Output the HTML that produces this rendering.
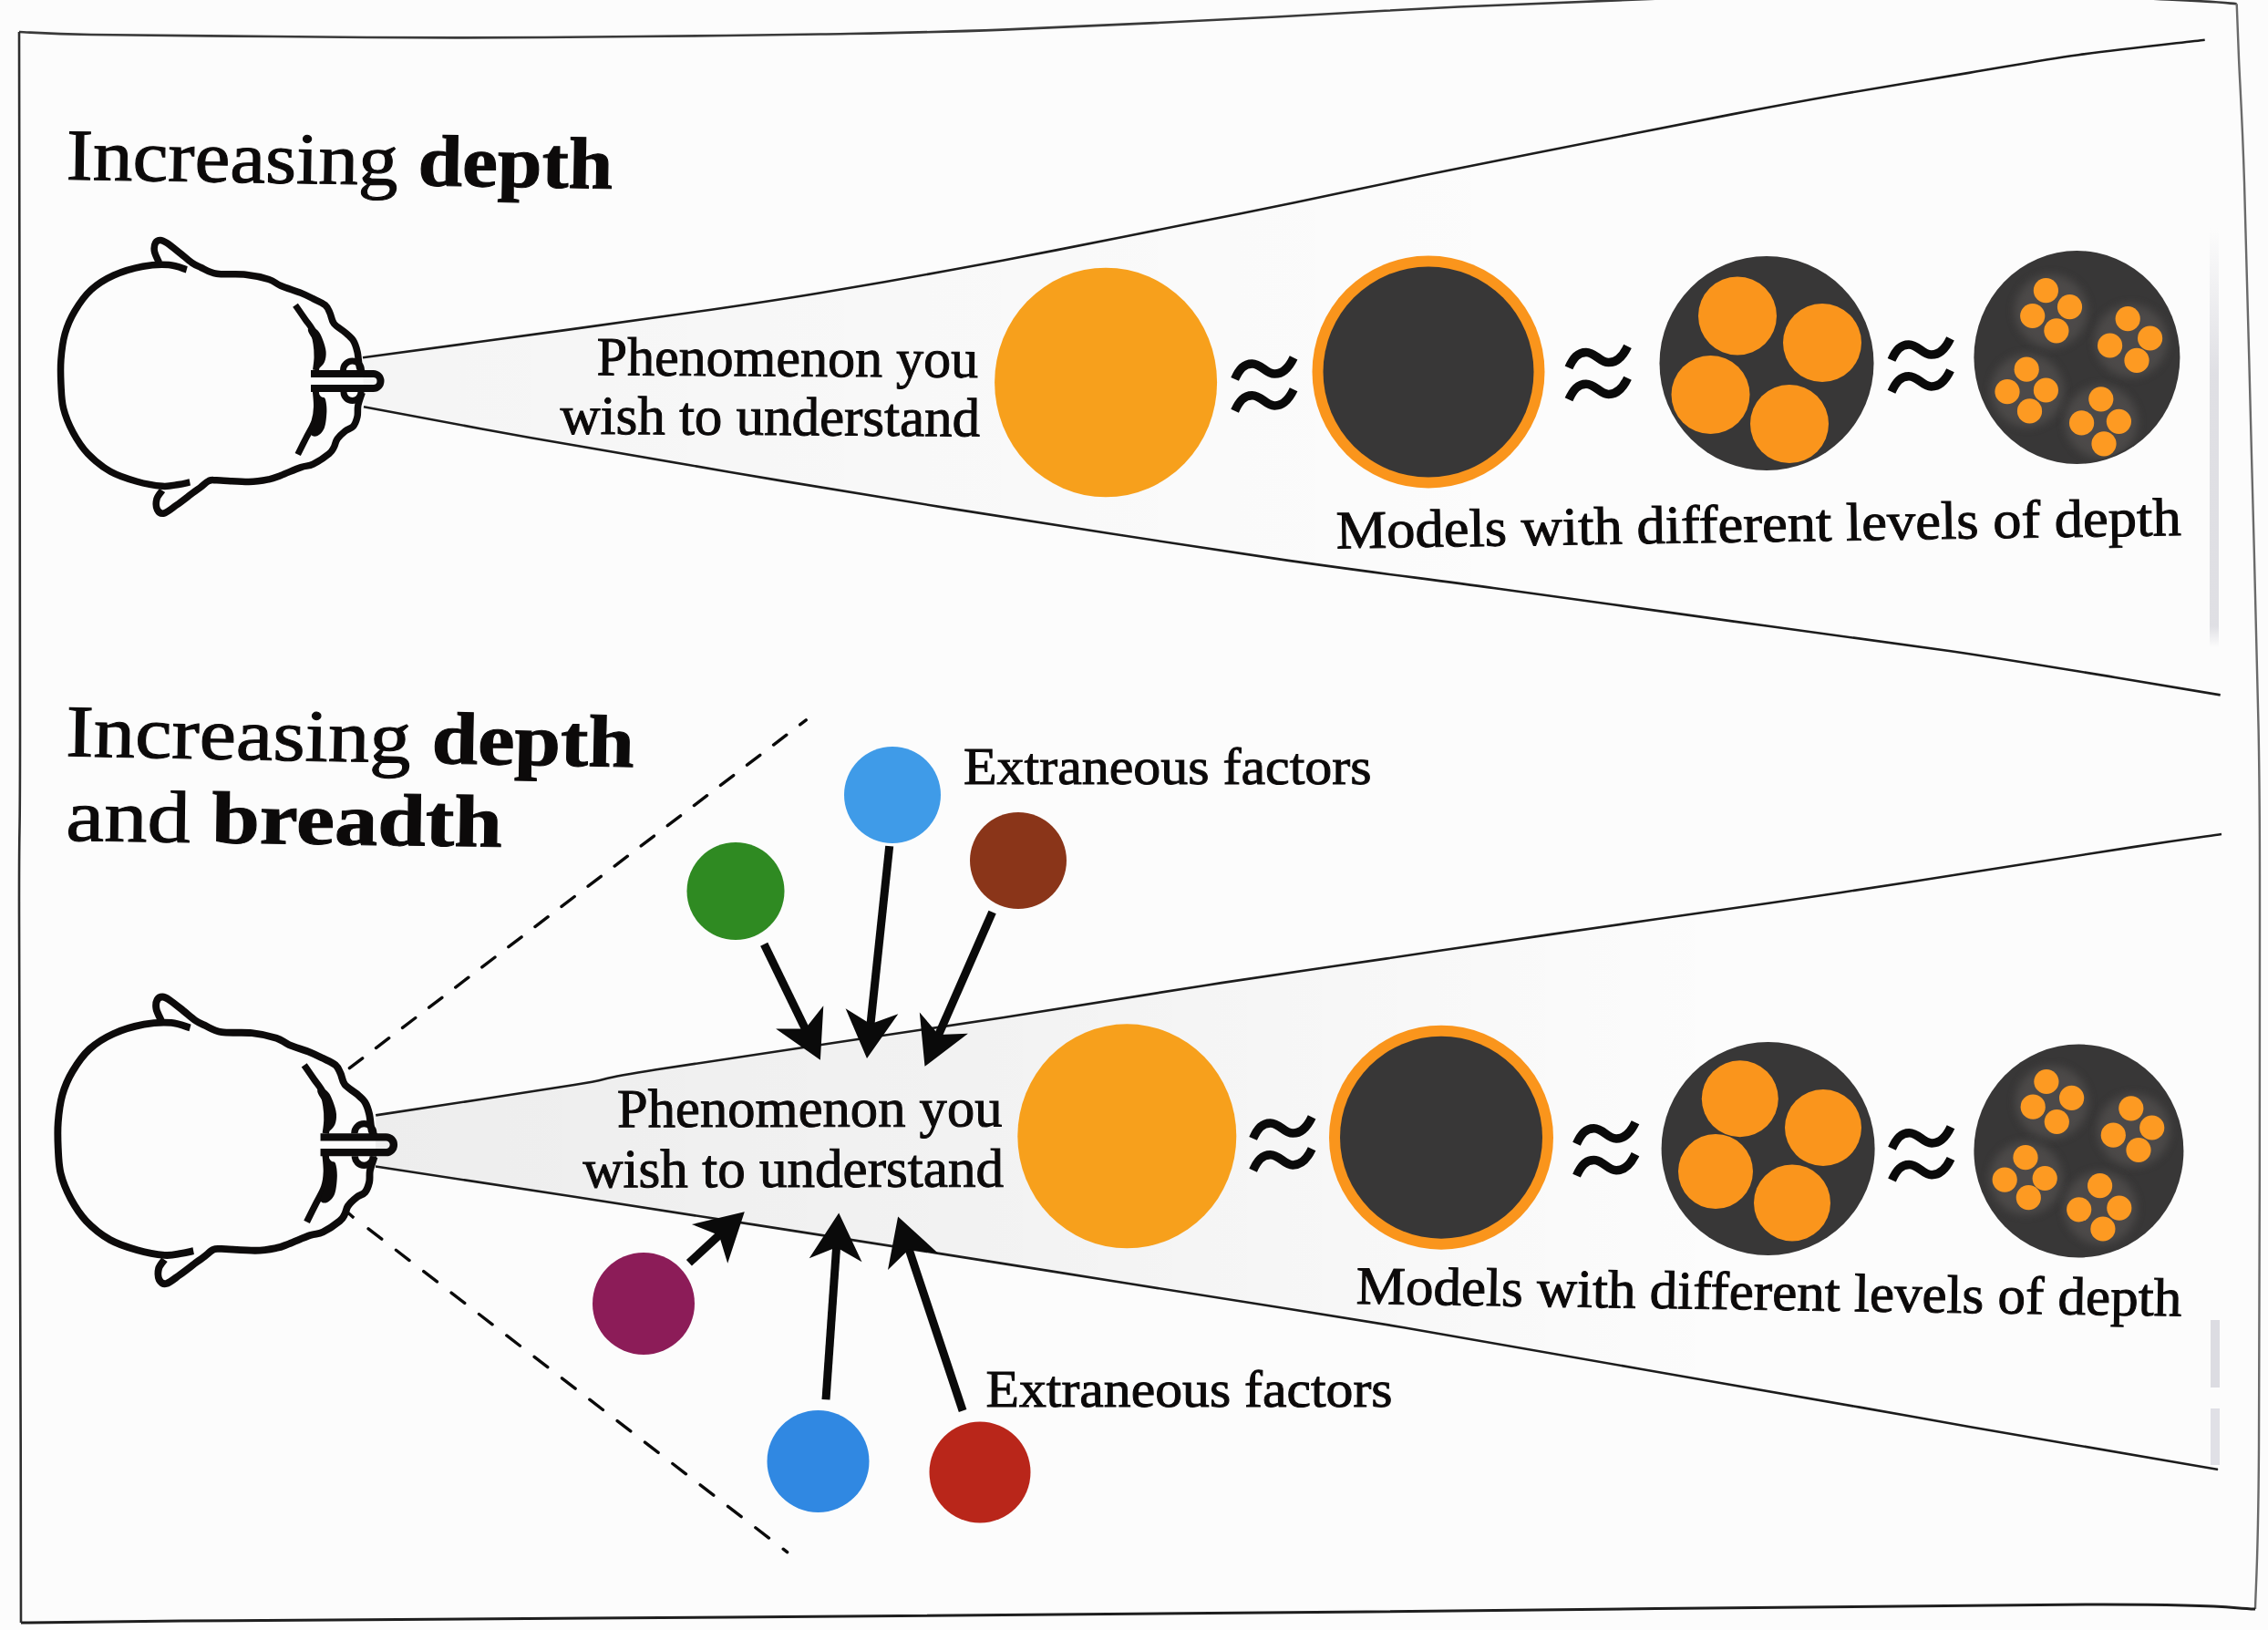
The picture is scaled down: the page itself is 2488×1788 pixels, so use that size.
<!DOCTYPE html>
<html><head><meta charset="utf-8"><style>
html,body{margin:0;padding:0;background:#fcfcfc;overflow:hidden}
svg{display:block}
text{font-family:"Liberation Serif",serif}
</style></head><body>
<svg width="2488" height="1788" viewBox="0 0 2488 1788"><rect width="2488" height="1788" fill="#fcfcfc"/><defs><filter id="hb" x="-30%" y="-30%" width="160%" height="160%"><feGaussianBlur stdDeviation="5"/></filter></defs><defs><linearGradient id="g1" gradientUnits="userSpaceOnUse" x1="400" y1="0" x2="1700" y2="0"><stop offset="0" stop-color="#000" stop-opacity="0.03"/><stop offset="0.5" stop-color="#000" stop-opacity="0.015"/><stop offset="1" stop-color="#000" stop-opacity="0"/></linearGradient><linearGradient id="g2" gradientUnits="userSpaceOnUse" x1="400" y1="0" x2="1900" y2="0"><stop offset="0" stop-color="#000" stop-opacity="0.06"/><stop offset="0.45" stop-color="#000" stop-opacity="0.04"/><stop offset="1" stop-color="#000" stop-opacity="0"/></linearGradient></defs><path d="M 398.0 392.3 C 435.0 387.3 556.3 370.9 620.0 362.1 C 683.7 353.4 733.3 346.6 780.0 339.8 C 826.7 333.0 856.7 328.5 900.0 321.3 C 943.3 314.1 996.7 304.7 1040.0 296.8 C 1083.3 288.9 1116.7 282.5 1160.0 274.1 C 1203.3 265.7 1256.7 254.9 1300.0 246.3 C 1343.3 237.7 1376.7 231.2 1420.0 222.3 C 1463.3 213.4 1516.7 201.7 1560.0 192.8 C 1603.3 183.9 1623.3 180.0 1680.0 168.8 C 1736.7 157.6 1843.3 136.3 1900.0 125.4 C 1956.7 114.5 1976.7 110.9 2020.0 103.3 C 2063.3 95.7 2116.7 87.1 2160.0 79.9 C 2203.3 72.7 2236.9 66.2 2280.0 60.2 C 2323.1 54.2 2395.6 46.5 2418.7 43.7 L 2435.7 762.4  2435.7 762.4 C 2416.4 759.2 2369.3 751.0 2320.0 743.0 C 2270.7 735.0 2210.0 724.5 2140.0 714.2 C 2070.0 703.9 1983.3 692.9 1900.0 681.4 C 1816.7 669.9 1723.3 656.6 1640.0 645.2 C 1556.7 633.8 1500.0 627.5 1400.0 612.9 C 1300.0 598.3 1140.0 573.3 1040.0 557.4 C 940.0 541.5 876.5 530.6 800.0 517.7 C 723.5 504.8 647.8 491.9 581.0 480.0 C 514.2 468.1 429.3 451.8 399.0 446.2 Z" fill="url(#g1)"/><path d="M 412.2 1223.4 C 448.5 1217.8 578.7 1198.3 630.0 1190.0 C 681.3 1181.7 641.7 1185.6 720.0 1173.3 C 798.3 1161.0 996.7 1132.1 1100.0 1116.2 C 1203.3 1100.3 1270.0 1088.9 1340.0 1078.1 C 1410.0 1067.3 1460.0 1060.4 1520.0 1051.6 C 1580.0 1042.8 1630.0 1035.2 1700.0 1025.1 C 1770.0 1014.9 1873.3 1000.4 1940.0 990.7 C 2006.7 981.0 2033.3 977.0 2100.0 966.7 C 2166.7 956.4 2283.8 937.7 2340.0 929.1 C 2396.2 920.5 2420.8 917.4 2437.0 915.0 L 2432.8 1611.9  2432.8 1611.9 C 2427.3 1611.0 2445.5 1614.0 2400.0 1606.2 C 2354.5 1598.4 2220.0 1575.4 2160.0 1565.0 C 2100.0 1554.6 2100.0 1554.1 2040.0 1543.6 C 1980.0 1533.1 1883.3 1516.4 1800.0 1501.8 C 1716.7 1487.2 1633.3 1471.8 1540.0 1456.2 C 1446.7 1440.6 1325.1 1421.8 1240.0 1408.3 C 1154.9 1394.8 1131.3 1390.8 1029.6 1374.9 C 927.9 1359.0 732.9 1328.7 630.0 1312.8 C 527.1 1296.9 448.3 1285.0 412.0 1279.5 Z" fill="url(#g2)"/><path d="M 21.0 35.0 C 34.2 35.5 53.5 37.2 100.0 38.0 C 146.5 38.8 233.3 39.4 300.0 40.0 C 366.7 40.6 433.3 41.4 500.0 41.4 C 566.7 41.4 633.3 40.6 700.0 40.0 C 766.7 39.4 833.3 38.7 900.0 37.5 C 966.7 36.3 1016.7 35.8 1100.0 32.6 C 1183.3 29.4 1316.7 22.7 1400.0 18.5 C 1483.3 14.3 1527.8 10.9 1600.0 7.5 C 1672.2 4.1 1749.7 1.2 1833.0 -2.0 C 1916.3 -5.2 2007.5 -12.3 2100.0 -12.0 C 2192.5 -11.7 2329.1 -2.7 2388.0 0.0 C 2446.9 2.7 2442.8 3.5 2453.7 4.2" fill="none" stroke="#3a3a3a" stroke-width="2.6"/><path d="M 2453.7 4.2 C 2454.1 14.2 2454.6 31.4 2456.0 64.0 C 2457.4 96.6 2459.7 127.3 2462.0 200.0 C 2464.3 272.7 2467.4 400.0 2470.0 500.0 C 2472.6 600.0 2476.1 716.7 2477.6 800.0 C 2479.1 883.3 2478.9 868.7 2479.0 1000.0 C 2479.1 1131.3 2478.8 1460.5 2478.0 1588.0 C 2477.2 1715.5 2474.7 1735.5 2474.0 1765.0" fill="none" stroke="#6a6a6a" stroke-width="2.4"/><path d="M 2474.0 1765.0 C 2443.0 1764.2 2450.3 1759.5 2288.0 1760.0 C 2125.7 1760.5 1748.0 1765.7 1500.0 1768.0 C 1252.0 1770.3 1016.7 1772.3 800.0 1774.0 C 583.3 1775.7 329.5 1777.0 200.0 1778.0 C 70.5 1779.0 52.5 1779.7 23.0 1780.0" fill="none" stroke="#1e1e1e" stroke-width="3"/><path d="M 23.0 1780.0 C 22.9 1748.0 23.0 1718.0 22.7 1588.0 C 22.4 1458.0 21.1 1131.3 21.0 1000.0 C 20.9 868.7 22.0 960.8 22.0 800.0 C 22.0 639.2 21.2 162.5 21.0 35.0" fill="none" stroke="#2e2e2e" stroke-width="2.6"/><path d="M 398.0 392.3 C 435.0 387.3 556.3 370.9 620.0 362.1 C 683.7 353.4 733.3 346.6 780.0 339.8 C 826.7 333.0 856.7 328.5 900.0 321.3 C 943.3 314.1 996.7 304.7 1040.0 296.8 C 1083.3 288.9 1116.7 282.5 1160.0 274.1 C 1203.3 265.7 1256.7 254.9 1300.0 246.3 C 1343.3 237.7 1376.7 231.2 1420.0 222.3 C 1463.3 213.4 1516.7 201.7 1560.0 192.8 C 1603.3 183.9 1623.3 180.0 1680.0 168.8 C 1736.7 157.6 1843.3 136.3 1900.0 125.4 C 1956.7 114.5 1976.7 110.9 2020.0 103.3 C 2063.3 95.7 2116.7 87.1 2160.0 79.9 C 2203.3 72.7 2236.9 66.2 2280.0 60.2 C 2323.1 54.2 2395.6 46.5 2418.7 43.7" fill="none" stroke="#1c1c1c" stroke-width="2.6"/><path d="M 399.0 446.2 C 429.3 451.8 514.2 468.1 581.0 480.0 C 647.8 491.9 723.5 504.8 800.0 517.7 C 876.5 530.6 940.0 541.5 1040.0 557.4 C 1140.0 573.3 1300.0 598.3 1400.0 612.9 C 1500.0 627.5 1556.7 633.8 1640.0 645.2 C 1723.3 656.6 1816.7 669.9 1900.0 681.4 C 1983.3 692.9 2070.0 703.9 2140.0 714.2 C 2210.0 724.5 2270.7 735.0 2320.0 743.0 C 2369.3 751.0 2416.4 759.2 2435.7 762.4" fill="none" stroke="#1c1c1c" stroke-width="2.6"/><path d="M 412.2 1223.4 C 448.5 1217.8 578.7 1198.3 630.0 1190.0 C 681.3 1181.7 641.7 1185.6 720.0 1173.3 C 798.3 1161.0 996.7 1132.1 1100.0 1116.2 C 1203.3 1100.3 1270.0 1088.9 1340.0 1078.1 C 1410.0 1067.3 1460.0 1060.4 1520.0 1051.6 C 1580.0 1042.8 1630.0 1035.2 1700.0 1025.1 C 1770.0 1014.9 1873.3 1000.4 1940.0 990.7 C 2006.7 981.0 2033.3 977.0 2100.0 966.7 C 2166.7 956.4 2283.8 937.7 2340.0 929.1 C 2396.2 920.5 2420.8 917.4 2437.0 915.0" fill="none" stroke="#1c1c1c" stroke-width="2.6"/><path d="M 412.0 1279.5 C 448.3 1285.0 527.1 1296.9 630.0 1312.8 C 732.9 1328.7 927.9 1359.0 1029.6 1374.9 C 1131.3 1390.8 1154.9 1394.8 1240.0 1408.3 C 1325.1 1421.8 1446.7 1440.6 1540.0 1456.2 C 1633.3 1471.8 1716.7 1487.2 1800.0 1501.8 C 1883.3 1516.4 1980.0 1533.1 2040.0 1543.6 C 2100.0 1554.1 2100.0 1554.6 2160.0 1565.0 C 2220.0 1575.4 2354.5 1598.4 2400.0 1606.2 C 2445.5 1614.0 2427.3 1611.0 2432.8 1611.9" fill="none" stroke="#1c1c1c" stroke-width="2.6"/><line x1="383.4" y1="1171.7" x2="884.2" y2="789.9" stroke="#0a0a0a" stroke-width="3.4" stroke-dasharray="17.9 18.66" stroke-linecap="round"/><line x1="404.1" y1="1347.8" x2="863.6" y2="1702.6" stroke="#0a0a0a" stroke-width="3.4" stroke-dasharray="18.5 19.83" stroke-linecap="round"/><line x1="381.2" y1="1329.7" x2="388.2" y2="1335.9" stroke="#0a0a0a" stroke-width="3.4"/><defs><linearGradient id="vb" x1="0" y1="0" x2="0" y2="1"><stop offset="0" stop-color="#d8d8de" stop-opacity="0"/><stop offset="0.35" stop-color="#d8d8de" stop-opacity="0.8"/><stop offset="0.95" stop-color="#d8d8de" stop-opacity="0.8"/><stop offset="1" stop-color="#d8d8de" stop-opacity="0"/></linearGradient></defs><rect x="2424" y="250" width="10" height="460" fill="url(#vb)"/><rect x="2425" y="1448" width="10" height="74" fill="#dcdce2"/><rect x="2425" y="1545" width="10" height="62" fill="#e0e0e6"/><g><path d="M 204.8 295.8 C 201.5 294.9 193.2 291.1 185.2 290.5 C 177.2 289.9 166.8 290.3 156.7 292.2 C 146.6 294.1 134.2 297.7 124.7 302.0 C 115.2 306.3 106.9 311.5 99.8 318.0 C 92.7 324.5 86.8 333.2 82.0 341.2 C 77.2 349.2 73.8 357.1 71.3 366.0 C 68.8 374.9 67.6 385.3 66.9 394.5 C 66.2 403.7 66.5 412.3 66.9 421.2 C 67.4 430.1 67.4 439.0 69.6 447.9 C 71.8 456.8 75.8 466.3 80.2 474.6 C 84.7 482.9 89.5 490.6 96.3 497.7 C 103.1 504.8 112.3 512.2 121.2 517.3 C 130.1 522.3 140.1 525.3 149.6 528.0 C 159.1 530.7 170.4 532.7 178.1 533.3 C 185.8 533.9 190.9 532.2 195.9 531.5 C 200.9 530.8 206.2 529.3 208.3 528.9" fill="none" stroke="#0d0b0b" stroke-width="7.5" stroke-linecap="butt" stroke-linejoin="round"/>
<path d="M 174.5 288.0 C 173.7 286.0 170.2 279.6 169.5 276.0 C 168.8 272.4 169.4 268.6 170.5 266.5 C 171.6 264.4 173.9 263.5 176.0 263.5 C 178.1 263.5 179.7 264.3 183.3 266.7 C 186.9 269.1 193.1 274.2 197.6 277.8 C 202.1 281.4 206.6 285.5 210.3 288.1 C 214.0 290.7 215.4 291.2 220.0 293.2 C 224.6 295.2 229.4 299.0 237.6 300.3 C 245.8 301.6 259.8 300.2 269.4 301.2 C 279.0 302.2 288.5 304.4 295.0 306.5 C 301.5 308.6 302.3 311.0 308.2 313.5 C 314.1 316.0 324.3 319.0 330.2 321.4 C 336.1 323.8 339.1 325.4 343.5 327.6 C 347.9 329.8 353.6 332.1 356.7 334.7 C 359.8 337.3 360.4 340.1 362.0 343.5 C 363.6 346.9 363.6 351.5 366.4 355.0 C 369.2 358.5 375.2 361.6 378.7 364.7 C 382.2 367.8 385.3 370.0 387.5 373.5 C 389.7 377.0 390.8 380.8 392.0 385.8 C 393.2 390.8 393.4 399.4 394.6 403.5 C 395.8 407.6 398.3 409.3 399.0 410.5" fill="none" stroke="#0d0b0b" stroke-width="7.5" stroke-linejoin="round"/>
<path d="M 397.2 430.6 C 396.5 433.0 393.7 440.3 392.8 444.7 C 391.9 449.1 392.9 453.2 392.0 457.0 C 391.1 460.8 389.7 465.0 387.5 467.6 C 385.3 470.2 381.6 470.5 378.7 472.9 C 375.8 475.2 371.9 478.8 369.9 481.7 C 367.8 484.6 367.9 487.9 366.4 490.5 C 364.9 493.1 364.9 494.5 361.1 497.6 C 357.3 500.7 348.6 506.6 343.5 509.1 C 338.4 511.6 336.1 510.6 330.2 512.6 C 324.3 514.6 314.1 519.2 308.2 521.4 C 302.3 523.6 300.9 524.6 295.0 525.8 C 289.1 527.0 282.5 528.4 272.9 528.5 C 263.3 528.6 244.9 526.9 237.6 526.7 C 230.2 526.6 231.7 526.3 228.8 527.6 C 225.9 528.9 222.8 532.5 220.0 534.6 C 217.2 536.8 216.0 537.3 211.7 540.5 C 207.4 543.7 199.4 550.0 194.1 553.8 C 188.8 557.5 183.6 562.1 180.0 563.0 C 176.4 563.9 173.8 561.6 172.5 559.0 C 171.2 556.4 171.1 550.7 172.0 547.2 C 172.9 543.7 177.0 539.5 178.0 538.0" fill="none" stroke="#0d0b0b" stroke-width="7.5" stroke-linejoin="round"/>
<path d="M 324.0 334.7 C 325.8 337.2 331.4 345.3 334.6 350.0 C 337.9 354.7 341.4 358.5 343.5 363.0 C 345.6 367.5 346.2 372.2 347.0 377.0 C 347.8 381.8 348.1 387.2 348.0 392.0 C 347.9 396.8 346.8 403.7 346.5 406.0" fill="none" stroke="#0d0b0b" stroke-width="7"/>
<path d="M 341.0 358.0 C 342.8 358.0 346.8 360.6 349.0 363.0 C 351.2 365.4 352.6 368.8 354.0 372.6 C 355.4 376.4 357.3 381.7 357.6 385.8 C 357.9 389.9 357.3 394.0 356.0 397.0 C 354.7 400.0 351.8 402.6 350.0 404.0 C 348.2 405.4 345.7 406.8 345.2 405.2 C 344.7 403.6 347.0 399.3 347.0 394.6 C 347.0 389.9 346.7 382.3 345.2 377.0 C 343.7 371.7 338.7 366.2 338.0 363.0 C 337.3 359.8 339.2 358.0 341.0 358.0 Z" fill="#0d0b0b"/>
<path d="M 346.1 426.0 C 346.3 429.3 347.7 440.0 347.5 446.0 C 347.3 452.0 346.9 456.3 345.0 462.0 C 343.1 467.7 339.1 473.9 336.0 480.0 C 332.9 486.1 328.2 495.4 326.7 498.5" fill="none" stroke="#0d0b0b" stroke-width="7"/>
<path d="M 346.1 428.8 C 346.8 426.9 350.5 433.5 352.3 435.0 C 354.1 436.5 355.7 435.0 356.7 437.6 C 357.7 440.2 358.5 445.6 358.4 450.9 C 358.2 456.2 357.6 464.8 355.8 469.4 C 354.1 473.9 350.4 477.1 347.9 478.2 C 345.4 479.3 341.4 478.6 341.0 476.0 C 340.6 473.4 344.1 467.2 345.2 462.3 C 346.3 457.4 347.8 452.1 347.9 446.5 C 348.0 440.9 345.4 430.7 346.1 428.8 Z" fill="#0d0b0b"/>
<path d="M 376.5 406 A 10 10 0 0 1 396.5 406" fill="none" stroke="#0d0b0b" stroke-width="7"/>
<path d="M 377 430 A 9.5 9.5 0 0 0 396 430" fill="none" stroke="#0d0b0b" stroke-width="7"/>
<path d="M 341 410 L 409.5 410 A 8 8 0 0 1 409.5 426 L 341 426" fill="none" stroke="#0d0b0b" stroke-width="8"/></g><g transform="matrix(1.05 0 0 1.05 -6.5 816.87)"><path d="M 204.8 295.8 C 201.5 294.9 193.2 291.1 185.2 290.5 C 177.2 289.9 166.8 290.3 156.7 292.2 C 146.6 294.1 134.2 297.7 124.7 302.0 C 115.2 306.3 106.9 311.5 99.8 318.0 C 92.7 324.5 86.8 333.2 82.0 341.2 C 77.2 349.2 73.8 357.1 71.3 366.0 C 68.8 374.9 67.6 385.3 66.9 394.5 C 66.2 403.7 66.5 412.3 66.9 421.2 C 67.4 430.1 67.4 439.0 69.6 447.9 C 71.8 456.8 75.8 466.3 80.2 474.6 C 84.7 482.9 89.5 490.6 96.3 497.7 C 103.1 504.8 112.3 512.2 121.2 517.3 C 130.1 522.3 140.1 525.3 149.6 528.0 C 159.1 530.7 170.4 532.7 178.1 533.3 C 185.8 533.9 190.9 532.2 195.9 531.5 C 200.9 530.8 206.2 529.3 208.3 528.9" fill="none" stroke="#0d0b0b" stroke-width="7.5" stroke-linecap="butt" stroke-linejoin="round"/>
<path d="M 174.5 288.0 C 173.7 286.0 170.2 279.6 169.5 276.0 C 168.8 272.4 169.4 268.6 170.5 266.5 C 171.6 264.4 173.9 263.5 176.0 263.5 C 178.1 263.5 179.7 264.3 183.3 266.7 C 186.9 269.1 193.1 274.2 197.6 277.8 C 202.1 281.4 206.6 285.5 210.3 288.1 C 214.0 290.7 215.4 291.2 220.0 293.2 C 224.6 295.2 229.4 299.0 237.6 300.3 C 245.8 301.6 259.8 300.2 269.4 301.2 C 279.0 302.2 288.5 304.4 295.0 306.5 C 301.5 308.6 302.3 311.0 308.2 313.5 C 314.1 316.0 324.3 319.0 330.2 321.4 C 336.1 323.8 339.1 325.4 343.5 327.6 C 347.9 329.8 353.6 332.1 356.7 334.7 C 359.8 337.3 360.4 340.1 362.0 343.5 C 363.6 346.9 363.6 351.5 366.4 355.0 C 369.2 358.5 375.2 361.6 378.7 364.7 C 382.2 367.8 385.3 370.0 387.5 373.5 C 389.7 377.0 390.8 380.8 392.0 385.8 C 393.2 390.8 393.4 399.4 394.6 403.5 C 395.8 407.6 398.3 409.3 399.0 410.5" fill="none" stroke="#0d0b0b" stroke-width="7.5" stroke-linejoin="round"/>
<path d="M 397.2 430.6 C 396.5 433.0 393.7 440.3 392.8 444.7 C 391.9 449.1 392.9 453.2 392.0 457.0 C 391.1 460.8 389.7 465.0 387.5 467.6 C 385.3 470.2 381.6 470.5 378.7 472.9 C 375.8 475.2 371.9 478.8 369.9 481.7 C 367.8 484.6 367.9 487.9 366.4 490.5 C 364.9 493.1 364.9 494.5 361.1 497.6 C 357.3 500.7 348.6 506.6 343.5 509.1 C 338.4 511.6 336.1 510.6 330.2 512.6 C 324.3 514.6 314.1 519.2 308.2 521.4 C 302.3 523.6 300.9 524.6 295.0 525.8 C 289.1 527.0 282.5 528.4 272.9 528.5 C 263.3 528.6 244.9 526.9 237.6 526.7 C 230.2 526.6 231.7 526.3 228.8 527.6 C 225.9 528.9 222.8 532.5 220.0 534.6 C 217.2 536.8 216.0 537.3 211.7 540.5 C 207.4 543.7 199.4 550.0 194.1 553.8 C 188.8 557.5 183.6 562.1 180.0 563.0 C 176.4 563.9 173.8 561.6 172.5 559.0 C 171.2 556.4 171.1 550.7 172.0 547.2 C 172.9 543.7 177.0 539.5 178.0 538.0" fill="none" stroke="#0d0b0b" stroke-width="7.5" stroke-linejoin="round"/>
<path d="M 324.0 334.7 C 325.8 337.2 331.4 345.3 334.6 350.0 C 337.9 354.7 341.4 358.5 343.5 363.0 C 345.6 367.5 346.2 372.2 347.0 377.0 C 347.8 381.8 348.1 387.2 348.0 392.0 C 347.9 396.8 346.8 403.7 346.5 406.0" fill="none" stroke="#0d0b0b" stroke-width="7"/>
<path d="M 341.0 358.0 C 342.8 358.0 346.8 360.6 349.0 363.0 C 351.2 365.4 352.6 368.8 354.0 372.6 C 355.4 376.4 357.3 381.7 357.6 385.8 C 357.9 389.9 357.3 394.0 356.0 397.0 C 354.7 400.0 351.8 402.6 350.0 404.0 C 348.2 405.4 345.7 406.8 345.2 405.2 C 344.7 403.6 347.0 399.3 347.0 394.6 C 347.0 389.9 346.7 382.3 345.2 377.0 C 343.7 371.7 338.7 366.2 338.0 363.0 C 337.3 359.8 339.2 358.0 341.0 358.0 Z" fill="#0d0b0b"/>
<path d="M 346.1 426.0 C 346.3 429.3 347.7 440.0 347.5 446.0 C 347.3 452.0 346.9 456.3 345.0 462.0 C 343.1 467.7 339.1 473.9 336.0 480.0 C 332.9 486.1 328.2 495.4 326.7 498.5" fill="none" stroke="#0d0b0b" stroke-width="7"/>
<path d="M 346.1 428.8 C 346.8 426.9 350.5 433.5 352.3 435.0 C 354.1 436.5 355.7 435.0 356.7 437.6 C 357.7 440.2 358.5 445.6 358.4 450.9 C 358.2 456.2 357.6 464.8 355.8 469.4 C 354.1 473.9 350.4 477.1 347.9 478.2 C 345.4 479.3 341.4 478.6 341.0 476.0 C 340.6 473.4 344.1 467.2 345.2 462.3 C 346.3 457.4 347.8 452.1 347.9 446.5 C 348.0 440.9 345.4 430.7 346.1 428.8 Z" fill="#0d0b0b"/>
<path d="M 376.5 406 A 10 10 0 0 1 396.5 406" fill="none" stroke="#0d0b0b" stroke-width="7"/>
<path d="M 377 430 A 9.5 9.5 0 0 0 396 430" fill="none" stroke="#0d0b0b" stroke-width="7"/>
<path d="M 341 410 L 409.5 410 A 8 8 0 0 1 409.5 426 L 341 426" fill="none" stroke="#0d0b0b" stroke-width="8"/></g><ellipse cx="1213.1" cy="419.5" rx="122" ry="125.8" fill="#f7a01c"/>
<circle cx="1567" cy="408" r="127.5" fill="#fa951c"/>
<circle cx="1567" cy="408" r="115.5" fill="#383737"/>
<circle cx="1938" cy="398.5" r="117.5" fill="#383737"/>
<circle cx="1906" cy="346.5" r="43" fill="#fa951c"/>
<circle cx="1999" cy="376" r="43" fill="#fa951c"/>
<circle cx="1876.5" cy="433" r="43" fill="#fa951c"/>
<circle cx="1963" cy="465" r="43" fill="#fa951c"/>
<ellipse cx="2278.4" cy="392" rx="113" ry="117" fill="#383737"/>
<clipPath id="c4a"><ellipse cx="2278.4" cy="392" rx="111" ry="115"/></clipPath><g clip-path="url(#c4a)">
<circle cx="2250.1" cy="341.2" r="40" fill="#5a5654" opacity="0.6" filter="url(#hb)"/>
<circle cx="2337.8" cy="373.8" r="40" fill="#5a5654" opacity="0.6" filter="url(#hb)"/>
<circle cx="2224.0" cy="428.5" r="40" fill="#5a5654" opacity="0.6" filter="url(#hb)"/>
<circle cx="2305.2" cy="462.7" r="40" fill="#5a5654" opacity="0.6" filter="url(#hb)"/>
</g>
<circle cx="2244.4" cy="318.7" r="13.6" fill="#fd9a22"/>
<circle cx="2229.7" cy="346.5" r="13.6" fill="#fd9a22"/>
<circle cx="2270.5" cy="336.7" r="13.6" fill="#fd9a22"/>
<circle cx="2255.9" cy="362.8" r="13.6" fill="#fd9a22"/>
<circle cx="2334.2" cy="349.7" r="13.6" fill="#fd9a22"/>
<circle cx="2314.6" cy="379.0" r="13.6" fill="#fd9a22"/>
<circle cx="2358.6" cy="371.0" r="13.6" fill="#fd9a22"/>
<circle cx="2344.0" cy="395.4" r="13.6" fill="#fd9a22"/>
<circle cx="2223.2" cy="405.2" r="13.6" fill="#fd9a22"/>
<circle cx="2202.0" cy="429.7" r="13.6" fill="#fd9a22"/>
<circle cx="2244.4" cy="428.0" r="13.6" fill="#fd9a22"/>
<circle cx="2226.5" cy="450.9" r="13.6" fill="#fd9a22"/>
<circle cx="2304.8" cy="437.8" r="13.6" fill="#fd9a22"/>
<circle cx="2283.6" cy="463.9" r="13.6" fill="#fd9a22"/>
<circle cx="2324.4" cy="462.3" r="13.6" fill="#fd9a22"/>
<circle cx="2308.0" cy="486.8" r="13.6" fill="#fd9a22"/><ellipse cx="1236.3" cy="1246.3" rx="120" ry="123" fill="#f7a01c"/>
<circle cx="1581" cy="1247.7" r="123" fill="#fa951c"/>
<circle cx="1581" cy="1247.7" r="111" fill="#383737"/>
<circle cx="1939.6" cy="1260" r="117" fill="#383737"/>
<circle cx="1908.8" cy="1205.3" r="42" fill="#fa951c"/>
<circle cx="2000" cy="1237" r="42" fill="#fa951c"/>
<circle cx="1882" cy="1285" r="41" fill="#fa951c"/>
<circle cx="1966" cy="1319.4" r="42" fill="#fa951c"/>
<ellipse cx="2280.4" cy="1262.5" rx="115" ry="117" fill="#383737"/>
<clipPath id="c4b"><ellipse cx="2280.4" cy="1262.5" rx="113" ry="115"/></clipPath><g clip-path="url(#c4b)">
<circle cx="2251.0" cy="1208.9" r="40" fill="#5a5654" opacity="0.6" filter="url(#hb)"/>
<circle cx="2340.7" cy="1239.9" r="40" fill="#5a5654" opacity="0.6" filter="url(#hb)"/>
<circle cx="2222.4" cy="1292.5" r="40" fill="#5a5654" opacity="0.6" filter="url(#hb)"/>
<circle cx="2304.0" cy="1325.2" r="40" fill="#5a5654" opacity="0.6" filter="url(#hb)"/>
</g>
<circle cx="2244.9" cy="1186.5" r="13.6" fill="#fd9a22"/>
<circle cx="2230.2" cy="1214.2" r="13.6" fill="#fd9a22"/>
<circle cx="2272.6" cy="1204.4" r="13.6" fill="#fd9a22"/>
<circle cx="2256.3" cy="1230.5" r="13.6" fill="#fd9a22"/>
<circle cx="2337.8" cy="1215.8" r="13.6" fill="#fd9a22"/>
<circle cx="2318.3" cy="1245.2" r="13.6" fill="#fd9a22"/>
<circle cx="2360.7" cy="1237.0" r="13.6" fill="#fd9a22"/>
<circle cx="2346.0" cy="1261.5" r="13.6" fill="#fd9a22"/>
<circle cx="2222.0" cy="1269.7" r="13.6" fill="#fd9a22"/>
<circle cx="2199.2" cy="1294.1" r="13.6" fill="#fd9a22"/>
<circle cx="2243.2" cy="1292.5" r="13.6" fill="#fd9a22"/>
<circle cx="2225.3" cy="1313.7" r="13.6" fill="#fd9a22"/>
<circle cx="2303.6" cy="1300.7" r="13.6" fill="#fd9a22"/>
<circle cx="2280.7" cy="1326.8" r="13.6" fill="#fd9a22"/>
<circle cx="2324.8" cy="1325.1" r="13.6" fill="#fd9a22"/>
<circle cx="2306.9" cy="1348.0" r="13.6" fill="#fd9a22"/><g transform="translate(1354.6,415.9) scale(1.0)"><path d="M 0 0 C 5 -11 10 -17 19 -17 C 29 -17 34 -6 43.5 -5.8 C 53 -5.6 60 -14 64.5 -23.5" fill="none" stroke="#0a0a0a" stroke-width="9.5"/><path d="M 0 0 C 5 -11 10 -17 19 -17 C 29 -17 34 -6 43.5 -5.8 C 53 -5.6 60 -14 64.5 -23.5" transform="translate(0,34.8)" fill="none" stroke="#0a0a0a" stroke-width="9.5"/></g><g transform="translate(1721,403.4) scale(1.0)"><path d="M 0 0 C 5 -11 10 -17 19 -17 C 29 -17 34 -6 43.5 -5.8 C 53 -5.6 60 -14 64.5 -23.5" fill="none" stroke="#0a0a0a" stroke-width="9.5"/><path d="M 0 0 C 5 -11 10 -17 19 -17 C 29 -17 34 -6 43.5 -5.8 C 53 -5.6 60 -14 64.5 -23.5" transform="translate(0,34.8)" fill="none" stroke="#0a0a0a" stroke-width="9.5"/></g><g transform="translate(2075,394.9) scale(1.0)"><path d="M 0 0 C 5 -11 10 -17 19 -17 C 29 -17 34 -6 43.5 -5.8 C 53 -5.6 60 -14 64.5 -23.5" fill="none" stroke="#0a0a0a" stroke-width="9.5"/><path d="M 0 0 C 5 -11 10 -17 19 -17 C 29 -17 34 -6 43.5 -5.8 C 53 -5.6 60 -14 64.5 -23.5" transform="translate(0,34.8)" fill="none" stroke="#0a0a0a" stroke-width="9.5"/></g><g transform="translate(1374.6,1248.9) scale(1.0)"><path d="M 0 0 C 5 -11 10 -17 19 -17 C 29 -17 34 -6 43.5 -5.8 C 53 -5.6 60 -14 64.5 -23.5" fill="none" stroke="#0a0a0a" stroke-width="9.5"/><path d="M 0 0 C 5 -11 10 -17 19 -17 C 29 -17 34 -6 43.5 -5.8 C 53 -5.6 60 -14 64.5 -23.5" transform="translate(0,34.8)" fill="none" stroke="#0a0a0a" stroke-width="9.5"/></g><g transform="translate(1729.5,1254.8) scale(1.0)"><path d="M 0 0 C 5 -11 10 -17 19 -17 C 29 -17 34 -6 43.5 -5.8 C 53 -5.6 60 -14 64.5 -23.5" fill="none" stroke="#0a0a0a" stroke-width="9.5"/><path d="M 0 0 C 5 -11 10 -17 19 -17 C 29 -17 34 -6 43.5 -5.8 C 53 -5.6 60 -14 64.5 -23.5" transform="translate(0,34.8)" fill="none" stroke="#0a0a0a" stroke-width="9.5"/></g><g transform="translate(2075.5,1259.7) scale(1.0)"><path d="M 0 0 C 5 -11 10 -17 19 -17 C 29 -17 34 -6 43.5 -5.8 C 53 -5.6 60 -14 64.5 -23.5" fill="none" stroke="#0a0a0a" stroke-width="9.5"/><path d="M 0 0 C 5 -11 10 -17 19 -17 C 29 -17 34 -6 43.5 -5.8 C 53 -5.6 60 -14 64.5 -23.5" transform="translate(0,34.8)" fill="none" stroke="#0a0a0a" stroke-width="9.5"/></g><circle cx="979" cy="872" r="53" fill="#3f9be8"/><circle cx="807" cy="977.5" r="53.5" fill="#2f8a22"/><circle cx="1117" cy="944" r="53" fill="#8a3519"/><circle cx="706" cy="1430" r="56" fill="#8c1c58"/><circle cx="897.5" cy="1603" r="56" fill="#3088e2"/><circle cx="1075" cy="1615" r="55.5" fill="#b9261a"/><line x1="838.2" y1="1035.7" x2="884.2" y2="1130.3" stroke="#0a0a0a" stroke-width="9"/><path d="M 899.9 1162.7 L 851.1 1128.6 L 883.3 1128.5 L 903.3 1103.3 Z" fill="#0a0a0a"/><line x1="975.7" y1="928.1" x2="954.8" y2="1125.2" stroke="#0a0a0a" stroke-width="9"/><path d="M 951.0 1161.0 L 927.6 1106.2 L 955.0 1123.2 L 985.3 1112.3 Z" fill="#0a0a0a"/><line x1="1088.6" y1="1000.5" x2="1028.9" y2="1136.8" stroke="#0a0a0a" stroke-width="9"/><path d="M 1014.5 1169.8 L 1008.8 1110.5 L 1029.7 1135.0 L 1061.9 1133.8 Z" fill="#0a0a0a"/><line x1="755.9" y1="1385.2" x2="790.3" y2="1353.6" stroke="#0a0a0a" stroke-width="9"/><path d="M 816.8 1329.2 L 798.2 1385.7 L 788.8 1354.9 L 758.9 1343.1 Z" fill="#0a0a0a"/><line x1="906.0" y1="1535.3" x2="917.7" y2="1366.3" stroke="#0a0a0a" stroke-width="9"/><path d="M 920.2 1330.4 L 945.5 1384.3 L 917.6 1368.3 L 887.7 1380.3 Z" fill="#0a0a0a"/><line x1="1056.1" y1="1547.5" x2="996.5" y2="1368.7" stroke="#0a0a0a" stroke-width="9"/><path d="M 985.1 1334.5 L 1029.1 1374.7 L 997.1 1370.5 L 974.0 1393.0 Z" fill="#0a0a0a"/><g font-family="Liberation Serif, serif" fill="#0c0a0a" stroke="#0c0a0a" stroke-width="1.0"><text x="72.5" y="196.8" font-size="80" textLength="599.5" lengthAdjust="spacingAndGlyphs" transform="rotate(0.95 74.7 196.8)">Increasing <tspan font-weight="bold">depth</tspan></text>
<text x="72.0" y="829.4" font-size="81" textLength="623.5" lengthAdjust="spacingAndGlyphs" transform="rotate(1.1 74.6 829.4)">Increasing <tspan font-weight="bold">depth</tspan></text>
<text x="72.0" y="922.0" font-size="81" textLength="478.5" lengthAdjust="spacingAndGlyphs" transform="rotate(0.81 74.6 922.0)">and <tspan font-weight="bold">breadth</tspan></text>
<text x="654.5" y="411.3" font-size="60" textLength="418.5" lengthAdjust="spacingAndGlyphs" transform="rotate(0.37 655.7 411.3)">Phenomenon you</text>
<text x="614.5" y="475.7" font-size="60" textLength="460.5" lengthAdjust="spacingAndGlyphs" transform="rotate(0.35 613.9 475.7)">wish to understand</text>
<text x="677.0" y="1236.2" font-size="60" textLength="422.5" lengthAdjust="spacingAndGlyphs" transform="rotate(-0.1 678.4 1236.2)">Phenomenon you</text>
<text x="639.5" y="1302.4" font-size="60" textLength="461.5" lengthAdjust="spacingAndGlyphs" transform="rotate(-0.1 638.7 1302.4)">wish to understand</text>
<text x="1466.0" y="601.4" font-size="59" textLength="927.0" lengthAdjust="spacingAndGlyphs" transform="rotate(-0.89 1466.8 601.4)">Models with different levels of depth</text>
<text x="1487.5" y="1430.0" font-size="59" textLength="905.5" lengthAdjust="spacingAndGlyphs" transform="rotate(0.86 1488.5 1430.0)">Models with different levels of depth</text>
<text x="1057.0" y="859.6" font-size="58" textLength="447.5" lengthAdjust="spacingAndGlyphs" transform="rotate(0.0 1058.6 859.6)">Extraneous factors</text>
<text x="1081.5" y="1543.4" font-size="58" textLength="446.0" lengthAdjust="spacingAndGlyphs" transform="rotate(0.0 1082.5 1543.4)">Extraneous factors</text></g></svg>
</body></html>
